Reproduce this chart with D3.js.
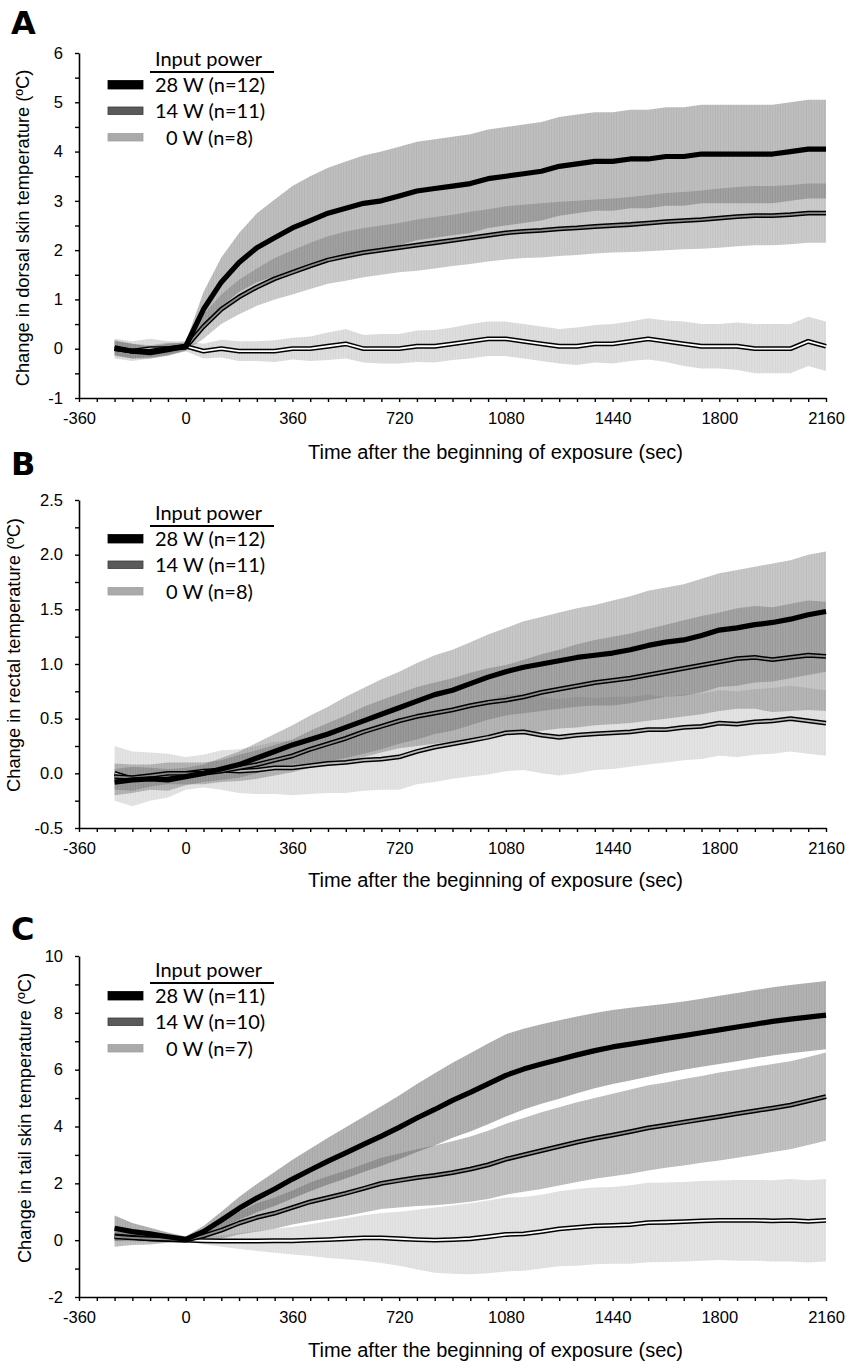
<!DOCTYPE html>
<html>
<head>
<meta charset="utf-8">
<script src="https://cdn.jsdelivr.net/npm/d3@7"></script>
<style>
  body { margin: 0; background: #fff; }
  svg { display: block; }
  .tick text { font-family: "Liberation Sans", Arial, sans-serif; font-size: 16.5px; fill: #000; }
</style>
</head>
<body>
<div id="chart"></div>
<script>
// sample times (sec after exposure start)
const TIME = [-240,-180,-120,-60,0,60,120,180,240,300,360,420,480,540,600,660,720,780,840,900,960,1020,1080,1140,1200,1260,1320,1380,1440,1500,1560,1620,1680,1740,1800,1860,1920,1980,2040,2100,2160];

// A: dorsal skin temperature (mean, SE)
const A_28 = [0.02,-0.05,-0.08,-0.02,0.05, 0.8,1.35,1.75,2.05,2.25,2.45, 2.6,2.75,2.85,2.95,3.0,3.1, 3.2,3.25,3.3,3.35,3.45,3.5, 3.55,3.6,3.7,3.75,3.8,3.8, 3.85,3.85,3.9,3.9,3.95,3.95, 3.95,3.95,3.95,4.0,4.05,4.05];
const A_28_SE = [0.15,0.15,0.12,0.12,0.08, 0.35,0.5,0.6,0.7,0.78,0.85, 0.9,0.92,0.95,0.97,1.0,1.0, 1.0,1.0,1.0,1.0,1.0,1.0, 1.0,1.0,1.0,1.0,1.0,1.0, 1.0,1.0,1.0,1.0,1.0,1.0, 1.0,1.0,1.0,1.0,1.0,1.0];
const A_14 = [0.0,-0.05,-0.05,0.0,0.03, 0.45,0.8,1.05,1.25,1.42,1.55, 1.68,1.8,1.88,1.95,2.0,2.05, 2.1,2.15,2.2,2.25,2.3,2.35, 2.38,2.4,2.43,2.45,2.48,2.5, 2.52,2.55,2.58,2.6,2.62,2.65, 2.68,2.7,2.7,2.72,2.75,2.75];
const A_14_SE = [0.15,0.15,0.12,0.12,0.08, 0.25,0.3,0.35,0.38,0.42,0.45, 0.47,0.48,0.5,0.5,0.5,0.5, 0.52,0.52,0.52,0.53,0.53,0.54, 0.54,0.55,0.55,0.55,0.55,0.55, 0.56,0.57,0.58,0.58,0.59,0.6, 0.6,0.6,0.6,0.6,0.6,0.6];
const A_0 = [0.0,-0.05,0.0,0.0,0.05, -0.05,0.0,-0.05,-0.05,-0.05,0.0, 0.0,0.05,0.1,0.0,0.0,0.0, 0.05,0.05,0.1,0.15,0.2,0.2, 0.15,0.1,0.05,0.05,0.1,0.1, 0.15,0.2,0.15,0.1,0.05,0.05, 0.05,0.0,0.0,0.0,0.15,0.05];
const A_0_SE = [0.2,0.2,0.2,0.15,0.1, 0.15,0.18,0.2,0.2,0.22,0.22, 0.25,0.28,0.3,0.28,0.3,0.3, 0.32,0.33,0.33,0.35,0.35,0.35, 0.35,0.35,0.35,0.38,0.38,0.4, 0.4,0.42,0.42,0.45,0.45,0.45, 0.48,0.5,0.5,0.5,0.5,0.5];

// B: rectal temperature
const B_28 = [-0.08,-0.06,-0.05,-0.06,-0.03, 0.0,0.04,0.08,0.14,0.2,0.26, 0.31,0.36,0.42,0.48,0.54,0.6, 0.66,0.72,0.76,0.82,0.88,0.93, 0.97,1.0,1.03,1.06,1.08,1.1, 1.13,1.17,1.2,1.22,1.26,1.31, 1.33,1.36,1.38,1.41,1.45,1.48];
const B_28_SE = [0.12,0.12,0.1,0.1,0.08, 0.08,0.1,0.12,0.14,0.16,0.18, 0.22,0.25,0.28,0.3,0.32,0.33, 0.35,0.36,0.37,0.38,0.39,0.4, 0.42,0.43,0.44,0.45,0.46,0.48, 0.49,0.5,0.5,0.51,0.52,0.52, 0.53,0.53,0.54,0.54,0.55,0.55];
const B_14 = [-0.03,-0.04,-0.02,0.0,0.0, 0.0,0.02,0.05,0.08,0.12,0.16, 0.22,0.27,0.32,0.38,0.43,0.48, 0.52,0.55,0.58,0.62,0.65,0.67, 0.7,0.74,0.77,0.8,0.83,0.85, 0.87,0.9,0.93,0.96,0.99,1.02, 1.05,1.06,1.04,1.06,1.08,1.07];
const B_14_SE = [0.12,0.12,0.1,0.1,0.1, 0.1,0.1,0.12,0.13,0.14,0.15, 0.17,0.19,0.21,0.23,0.24,0.25, 0.27,0.28,0.29,0.3,0.31,0.32, 0.34,0.35,0.36,0.38,0.39,0.4, 0.41,0.42,0.43,0.44,0.45,0.45, 0.46,0.47,0.48,0.49,0.5,0.5];
const B_0 = [0.0,-0.05,-0.03,-0.02,0.0, 0.02,0.03,0.02,0.03,0.05,0.05, 0.07,0.09,0.1,0.12,0.13,0.15, 0.2,0.24,0.27,0.3,0.33,0.37, 0.38,0.35,0.33,0.35,0.36,0.37, 0.38,0.4,0.4,0.42,0.43,0.46, 0.45,0.47,0.48,0.5,0.48,0.46];
const B_0_SE = [0.25,0.25,0.22,0.2,0.15, 0.15,0.18,0.2,0.22,0.24,0.25, 0.26,0.27,0.28,0.28,0.28,0.3, 0.3,0.32,0.32,0.33,0.34,0.35, 0.35,0.35,0.35,0.35,0.33,0.33, 0.32,0.32,0.3,0.3,0.3,0.3, 0.3,0.3,0.3,0.3,0.3,0.3];

// C: tail skin temperature
const C_28 = [0.42,0.3,0.22,0.12,0.03, 0.3,0.7,1.12,1.48,1.8,2.15, 2.47,2.78,3.07,3.37,3.66,3.97, 4.3,4.6,4.92,5.2,5.5,5.8, 6.02,6.2,6.36,6.52,6.67,6.8, 6.9,7.0,7.1,7.2,7.3,7.4, 7.5,7.6,7.7,7.78,7.85,7.92];
const C_28_SE = [0.45,0.3,0.22,0.15,0.1, 0.2,0.3,0.4,0.5,0.6,0.68, 0.75,0.82,0.9,0.97,1.05,1.12, 1.2,1.27,1.32,1.38,1.42,1.45, 1.42,1.4,1.38,1.35,1.32,1.3, 1.28,1.25,1.22,1.2,1.2,1.2, 1.2,1.2,1.2,1.2,1.2,1.2];
const C_14 = [0.12,0.08,0.05,0.03,0.0, 0.15,0.35,0.6,0.8,0.95,1.15, 1.35,1.5,1.65,1.82,2.0,2.1, 2.2,2.28,2.38,2.5,2.65,2.85, 3.0,3.15,3.3,3.45,3.58,3.7, 3.82,3.95,4.05,4.15,4.25,4.35, 4.45,4.55,4.65,4.75,4.9,5.05];
const C_14_SE = [0.35,0.25,0.2,0.12,0.08, 0.2,0.3,0.4,0.5,0.55,0.6, 0.68,0.75,0.8,0.85,0.9,0.95, 1.0,1.05,1.1,1.15,1.2,1.25, 1.3,1.35,1.38,1.4,1.42,1.45, 1.48,1.5,1.5,1.52,1.53,1.55, 1.55,1.55,1.55,1.55,1.55,1.55];
const C_0 = [0.15,0.1,0.05,0.02,0.0, -0.02,-0.03,-0.03,-0.03,-0.02,-0.02, 0.0,0.02,0.05,0.08,0.08,0.05, 0.02,0.0,0.02,0.05,0.12,0.2, 0.22,0.3,0.4,0.45,0.5,0.52, 0.55,0.62,0.63,0.65,0.68,0.7, 0.7,0.7,0.68,0.7,0.66,0.7];
const C_0_SE = [0.2,0.15,0.12,0.1,0.05, 0.12,0.2,0.28,0.35,0.42,0.48, 0.56,0.65,0.72,0.8,0.88,0.95, 1.05,1.15,1.2,1.25,1.28,1.3, 1.3,1.3,1.32,1.35,1.35,1.35, 1.38,1.4,1.4,1.4,1.4,1.4, 1.42,1.42,1.43,1.45,1.45,1.45];

const X_TICKS = [-360, 0, 360, 720, 1080, 1440, 1800, 2160];
const Y_TICKS_A = [-1, 0, 1, 2, 3, 4, 5, 6];
const Y_TICKS_B = [-0.5, 0, 0.5, 1, 1.5, 2, 2.5];
const Y_TICKS_C = [-2, 0, 2, 4, 6, 8, 10];
const LEGEND_TITLE = 'Input power';
const LEGEND_AB = ['28 W (n=12)', '14 W (n=11)', '0 W (n=8)'];
const LEGEND_C = ['28 W (n=11)', '14 W (n=10)', '0 W (n=7)'];
const X_TITLE = 'Time after the beginning of exposure (sec)';

// styling for the three power levels
const STYLE = [
  { band: '#676767', inner: null, swatch: '#000', swatchStroke: '#000', indent: 0 },
  { band: '#727272', inner: '#8a8a8a', swatch: '#5a5a5a', swatchStroke: '#3a3a3a', indent: 0 },
  { band: '#999999', inner: '#fff', swatch: '#aaaaaa', swatchStroke: '#a0a0a0', indent: 11 },
];

const PANELS = [
  { id: 'A', letterY: 34, top: 53, bottom: 398, domain: [-1, 6], ticks: Y_TICKS_A, minor: 0.5,
    fmt: (d) => String(d), ylabel: 'Change in dorsal skin temperature (ºC)', ylx: 23, yly: 228,
    titleY: 459, legendY: 72, legend: LEGEND_AB, alpha: [0.42, 0.36, 0.32], inner0: '#fff',
    series: [[A_28, A_28_SE], [A_14, A_14_SE], [A_0, A_0_SE]] },
  { id: 'B', letterY: 475, top: 500, bottom: 828, domain: [-0.5, 2.5], ticks: Y_TICKS_B, minor: 0.25,
    fmt: (d) => d.toFixed(1), ylabel: 'Change in rectal temperature (ºC)', ylx: 14, yly: 655,
    titleY: 887, legendY: 526, legend: LEGEND_AB, alpha: [0.36, 0.4, 0.28], inner0: '#b8b8b8',
    series: [[B_28, B_28_SE], [B_14, B_14_SE], [B_0, B_0_SE]] },
  { id: 'C', letterY: 940, top: 956, bottom: 1297, domain: [-2, 10], ticks: Y_TICKS_C, minor: 1,
    fmt: (d) => String(d), ylabel: 'Change in tail skin temperature (ºC)', ylx: 25, yly: 1118,
    titleY: 1357, legendY: 983, legend: LEGEND_C, alpha: [0.5, 0.43, 0.28], inner0: '#fff',
    series: [[C_28, C_28_SE], [C_14, C_14_SE], [C_0, C_0_SE]] },
];

const W = 851, H = 1368;
const svg = d3.select('#chart').append('svg').attr('width', W).attr('height', H);
const defs = svg.append('defs');

const x = d3.scaleLinear().domain([-360, 2160]).range([79, 826]);
const xAll = d3.range(-360, 2161, 60);

PANELS.forEach((p) => {
  const y = d3.scaleLinear().domain(p.domain).range([p.bottom, p.top]);
  const g = svg.append('g').attr('class', `panel-${p.id}`);

  // vertical-hatch look of the SE bands
  p.series.forEach((s, k) => {
    const pat = defs.append('pattern')
      .attr('id', `stripe-${p.id}-${k}`)
      .attr('patternUnits', 'userSpaceOnUse')
      .attr('width', 2.6).attr('height', 6);
    pat.append('rect').attr('width', 2.6).attr('height', 6)
      .attr('fill', STYLE[k].band).attr('fill-opacity', p.alpha[k]);
    pat.append('rect').attr('width', 0.9).attr('height', 6)
      .attr('fill', STYLE[k].band).attr('fill-opacity', p.alpha[k] * 0.35);
  });

  const area = (s) => d3.area()
    .x((d, i) => x(TIME[i]))
    .y0((d, i) => y(s[0][i] - s[1][i]))
    .y1((d, i) => y(s[0][i] + s[1][i]))(TIME);
  const line = (s) => d3.line().x((d, i) => x(TIME[i])).y((d, i) => y(s[0][i]))(TIME);

  // bands, light to dark
  [2, 1, 0].forEach((k) => {
    g.append('path').attr('d', area(p.series[k])).attr('fill', `url(#stripe-${p.id}-${k})`);
  });

  // mean lines
  [2, 1, 0].forEach((k) => {
    const d = line(p.series[k]);
    g.append('path').attr('d', d).attr('fill', 'none').attr('stroke', '#000')
      .attr('stroke-width', k === 0 ? 5.2 : 4.8).attr('stroke-linejoin', 'round');
    const inner = k === 2 ? p.inner0 : STYLE[k].inner;
    if (inner) {
      g.append('path').attr('d', d).attr('fill', 'none').attr('stroke', inner)
        .attr('stroke-width', 1.8).attr('stroke-linejoin', 'round');
    }
  });

  // axes
  const yAll = d3.range(p.domain[0], p.domain[1] + p.minor / 2, p.minor);
  const isMajor = (v) => p.ticks.some((t) => Math.abs(t - v) < 1e-6);
  const yAxis = g.append('g').attr('transform', 'translate(79,0)')
    .call(d3.axisLeft(y).tickValues(yAll).tickSize(4).tickSizeOuter(0).tickPadding(12)
      .tickFormat((v) => (isMajor(v) ? p.fmt(v) : '')));
  const xAxis = g.append('g').attr('transform', `translate(0,${p.bottom})`)
    .call(d3.axisBottom(x).tickValues(xAll).tickSize(4).tickSizeOuter(0).tickPadding(10)
      .tickFormat((v) => (X_TICKS.includes(v) ? String(v) : '')));
  [xAxis, yAxis].forEach((a) => {
    a.select('.domain').attr('stroke', '#000').attr('stroke-width', 1.6);
    a.selectAll('.tick line').attr('stroke', '#000').attr('stroke-width', 1.4);
  });

  // titles
  svg.append('text').attr('x', 11).attr('y', p.letterY)
    .attr('font-family', '"DejaVu Sans", sans-serif').attr('font-weight', 'bold')
    .attr('font-size', 32).text(p.id);
  svg.append('text').attr('x', 495.5).attr('y', p.titleY).attr('text-anchor', 'middle')
    .attr('font-family', '"Liberation Sans", Arial, sans-serif').attr('font-size', 20)
    .text(X_TITLE);
  svg.append('text').attr('transform', `translate(${p.ylx},${p.yly}) rotate(-90)`)
    .attr('text-anchor', 'middle').attr('dy', '0.35em')
    .attr('font-family', '"Liberation Sans", Arial, sans-serif').attr('font-size', 18.3)
    .text(p.ylabel);

  // legend
  const lg = svg.append('g').attr('font-family', 'Lato, "Open Sans", sans-serif').attr('font-size', 20);
  lg.append('text').attr('x', 155).attr('y', p.legendY - 6).text(LEGEND_TITLE);
  lg.append('line').attr('x1', 150).attr('x2', 274).attr('y1', p.legendY).attr('y2', p.legendY)
    .attr('stroke', '#000').attr('stroke-width', 2.2);
  p.legend.forEach((label, k) => {
    const cy = p.legendY + 12.5 + k * 26.5;
    lg.append('rect').attr('x', 108).attr('y', cy - 4).attr('width', 35).attr('height', k === 0 ? 8.5 : 7.5)
      .attr('fill', STYLE[k].swatch).attr('stroke', STYLE[k].swatchStroke).attr('stroke-width', 0.8);
    lg.append('text').attr('x', 155 + STYLE[k].indent).attr('y', cy).attr('dy', '0.36em').text(label);
  });
});
</script>
</body>
</html>
